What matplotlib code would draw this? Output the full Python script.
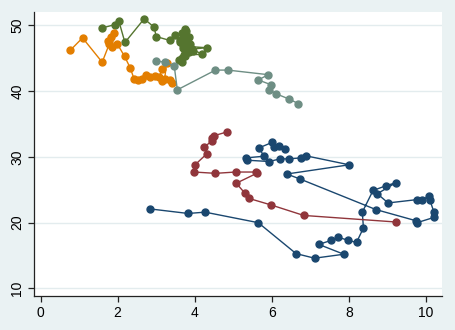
import matplotlib
matplotlib.use("Agg")
import matplotlib.pyplot as plt

plt.rcParams['font.family'] = ['Liberation Sans', 'DejaVu Sans']

# Series 1 (navy)
navy_x = [2.83, 3.83, 4.27, 5.65, 6.63, 7.11, 7.87, 7.22, 7.54, 7.72, 7.99, 8.20, 8.38, 8.35,
          8.63, 8.96, 9.23, 8.74, 9.02, 9.76, 9.89, 10.08, 10.10, 10.21, 10.21, 9.77, 9.74, 8.70,
          6.73, 6.39, 8.01, 6.90, 6.76, 6.44, 6.21, 5.94, 5.35, 5.33, 5.79, 5.68, 6.01, 6.05, 6.19, 6.35]
navy_y = [22.1, 21.4, 21.6, 20.0, 15.3, 14.6, 15.2, 16.7, 17.3, 17.8, 17.3, 17.0, 19.2, 21.6,
          24.9, 25.6, 26.1, 24.4, 23.0, 23.5, 23.5, 24.0, 23.5, 21.6, 20.8, 20.0, 20.3, 22.0,
          26.65, 27.4, 28.8, 30.15, 29.85, 29.7, 29.7, 29.3, 29.5, 29.85, 30.1, 31.4, 32.2, 31.5, 31.7, 31.2]

# Series 2 (maroon)
maroon_x = [4.84, 4.49, 4.46, 4.44, 4.25, 4.32, 4.01, 3.99, 4.54, 5.06, 5.59, 5.61, 5.08, 5.30,
            5.40, 5.98, 6.83, 9.23]
maroon_y = [33.8, 33.2, 32.8, 32.4, 31.5, 30.5, 28.8, 27.7, 27.5, 27.7, 27.7, 27.5, 26.0, 24.5,
            23.7, 22.7, 21.1, 20.1]

# Series 3 (green)
green_x = [1.59, 1.92, 2.03, 2.19, 2.69, 2.95, 3.00, 3.36, 3.48, 3.62, 3.66, 3.75, 3.78, 3.85,
           3.72, 3.70, 3.62, 3.80, 3.70, 3.88, 3.80, 4.31, 3.76, 3.85, 3.92, 4.20, 3.72, 3.80,
           3.66, 3.70, 3.95, 3.75, 3.60, 3.68]
green_y = [49.6, 50.1, 50.7, 47.4, 51.0, 49.7, 48.3, 47.7, 48.6, 47.5, 48.9, 49.5, 49.1, 48.3,
           48.6, 48.0, 47.8, 47.4, 47.0, 47.2, 46.8, 46.6, 46.3, 45.9, 46.4, 45.6, 45.5, 46.0,
           45.0, 46.6, 46.1, 45.3, 44.8, 44.5]

# Series 4 (orange)
orange_x = [0.77, 1.09, 1.60, 1.78, 1.74, 1.83, 1.91, 1.86, 1.99, 2.18, 2.33, 2.43, 2.54, 2.64,
            2.73, 2.84, 2.97, 3.08, 3.16, 3.27, 3.22, 3.16, 3.36, 3.41]
orange_y = [46.2, 48.1, 44.4, 47.1, 47.6, 48.3, 48.8, 46.7, 47.2, 45.3, 43.5, 41.8, 41.7, 41.9,
            42.4, 42.2, 42.3, 42.2, 43.3, 44.3, 41.8, 41.5, 41.7, 41.2]

# Series 5 (teal)
teal_x = [2.99, 3.23, 3.47, 3.55, 4.54, 4.86, 5.91, 5.65, 5.97, 5.94, 6.11, 6.45, 6.69]
teal_y = [44.6, 44.4, 43.8, 40.2, 43.2, 43.2, 42.5, 41.7, 41.0, 40.2, 39.6, 38.8, 38.1]

x_ticks = [0, 2, 4, 6, 8, 10]
y_ticks = [10, 20, 30, 40, 50]

series = [
    (navy_x, navy_y, '#1a476f'),
    (maroon_x, maroon_y, '#90353b'),
    (green_x, green_y, '#55752f'),
    (orange_x, orange_y, '#e37e00'),
    (teal_x, teal_y, '#6e8e84'),
]

fig = plt.figure(figsize=(4.55, 3.30), dpi=100, facecolor='#eaf2f3')
ax = fig.add_axes([0.0747, 0.103, 0.896, 0.862])
ax.set_facecolor('white')

for xs, ys, c in series:
    ax.plot(xs, ys, '-o', color=c, lw=1.0, ms=5.0, mec=c, mfc=c, zorder=3)

ax.set_xlim(-0.17, 10.41)
ax.set_ylim(8.85, 52.1)
ax.set_xticks(x_ticks)
ax.set_yticks(y_ticks)
ax.set_xticklabels([str(t) for t in x_ticks])
ax.set_yticklabels([str(t) for t in y_ticks], rotation=90, va='center')
ax.yaxis.grid(True, color='#e3ecee', lw=1.0, zorder=0)
ax.set_axisbelow(True)

for s in ['top', 'right']:
    ax.spines[s].set_visible(False)
for s in ['left', 'bottom']:
    ax.spines[s].set_color('#222222')
    ax.spines[s].set_linewidth(0.9)

ax.tick_params(axis='both', direction='out', length=4, width=0.9, color='#222222',
               labelsize=10, labelcolor='black', pad=3)

fig.savefig('out.png', dpi=100, facecolor=fig.get_facecolor())
